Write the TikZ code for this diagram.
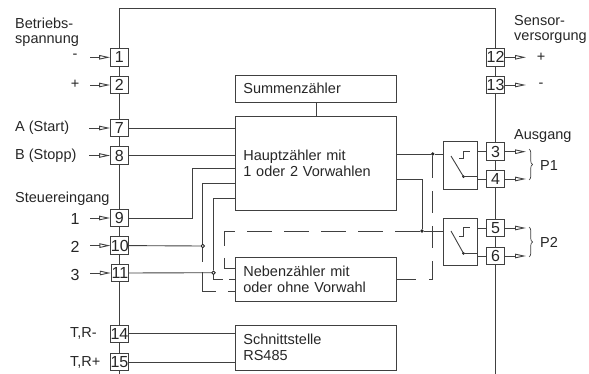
\documentclass[tikz,border=0pt]{standalone}
\usepackage{fontspec}
\setmainfont{Liberation Sans}
\usetikzlibrary{arrows.meta, calc, decorations.pathreplacing}

\tikzset{
    wire/.style={black!75, line width=0.9pt},
    dashwire/.style={wire, dash pattern=on 25pt off 12pt},
    termbox/.style={draw=black!75, fill=white, line width=0.9pt, minimum width=17.5pt, minimum height=17.5pt,
        inner sep=0pt, text=black!85, font=\fontsize{16}{16}\selectfont},
    block/.style={draw=black!75, line width=0.9pt, align=left, inner xsep=7.5pt, inner ysep=0pt,
        minimum width=160.7pt, text width=145.7pt, text=black!85, font=\fontsize{14.5}{15.8}\selectfont},
    swbox/.style={draw=black!75, line width=0.9pt, minimum width=34pt, minimum height=47.4pt, inner sep=0pt},
    lab/.style={text=black!85, inner sep=0pt, font=\fontsize{14.5}{15.5}\selectfont},
    numlab/.style={lab, font=\fontsize{16}{16}\selectfont},
    inarrow/.style={wire, -{Triangle[open, length=11pt, width=4.5pt]}},
    dot/.style={circle, fill=black!85, minimum size=3.8pt, inner sep=0pt},
    ring/.style={circle, draw=black!85, fill=white, line width=0.9pt, minimum size=3.6pt, inner sep=0pt},
    pbrace/.style={wire, line width=0.7pt, decorate, decoration={brace, amplitude=3.5pt}},
}

\begin{document}
\begin{tikzpicture}[x=1pt, y=-1pt]

\useasboundingbox (0,0) rectangle (589,374);

% ============================================================
% Housing line
% ============================================================

\coordinate (busla) at (119.5,374);
\coordinate (buslb) at (119.5,8.5);
\coordinate (busrb) at (495.5,8.5);
\coordinate (busra) at (495.5,374);
\draw[wire] (busla) -- (buslb) -- (busrb) -- (busra);

% ============================================================
% Terminals
% ============================================================

\foreach \n/\xt/\y in {1/119.3/57.3, 2/119.3/85, 9/119.3/218, 10/119.8/245.6, 11/120/273} {
    \node[termbox] (t\n) at (\xt,\y) {\n};
    \coordinate (a\n) at (90,\y);
    \draw[inarrow] (a\n) -- (t\n.west);
}
\foreach \n/\y in {7/128, 8/155.5} {
    \node[termbox] (t\n) at (119.3,\y) {\n};
    \coordinate (a\n) at (89,\y);
    \draw[inarrow] (a\n) -- (t\n.west);
}
\foreach \n/\y in {14/333.7, 15/362} {
    \node[termbox] (t\n) at (119.5,\y) {\n};
}
\foreach \n/\y/\txt in {12/57.3/+, 13/85/-} {
    \node[termbox] (t\n) at (495.5,\y) {\n};
    \coordinate (a\n) at (526,\y);
    \draw[inarrow] (t\n.east) -- (a\n);
    \node[lab] (lt\n) at (541,\y) {\txt};
}
\foreach \n/\y in {3/151.7, 4/179, 5/228, 6/256} {
    \node[termbox] (t\n) at (495.5,\y) {\n};
    \coordinate (a\n) at (526,\y);
    \draw[inarrow] (t\n.east) -- (a\n);
}

% ============================================================
% Labels
% ============================================================

\node[lab] (lt1) at (75,56.5) {-};
\node[lab] (lt2) at (75,84.5) {+};
\foreach \n/\y/\txt in {9/218.5/1, 10/246.5/2, 11/274.5/3} {
    \node[numlab] (lt\n) at (75,\y) {\txt};
}
\node[lab, anchor=west, align=left] (lbetr) at (15,32.5) {Betriebs-\\spannung};
\node[lab, anchor=west] (lstart) at (15,127.5) {A (Start)};
\node[lab, anchor=west] (lstopp) at (15,155.5) {B (Stopp)};
\node[lab, anchor=west] (lsteuer) at (15,199) {Steuereingang};
\node[lab, anchor=west] (ltr) at (70,333) {T,R-};
\node[lab, anchor=west] (ltrp) at (70,362) {T,R+};
\node[lab, anchor=west, align=left] (lsens) at (514,29.5) {Sensor-\\versorgung};
\node[lab, anchor=west] (lausg) at (514,136) {Ausgang};

% ============================================================
% Blocks
% ============================================================

\node[block, minimum height=26.5pt] (summe) at (316.2,88.8) {Summenzähler};
\node[block, minimum height=94pt] (haupt) at (316.2,163) {Hauptzähler mit\\1 oder 2 Vorwahlen};
\node[block, minimum height=44pt] (neben) at (316.2,279.7) {Nebenzähler mit\\oder ohne Vorwahl};
\node[block, minimum height=45pt] (schnitt) at (316.2,347.5) {Schnittstelle\\RS485};

\draw[wire] (summe.south) -- (summe.south |- haupt.north);
\draw[wire] (t7.east) -- (t7.east -| haupt.west);
\draw[wire] (t8.east) -- (t8.east -| haupt.west);
\draw[wire] (t14.east) -- (t14.east -| schnitt.west);
\draw[wire] (t15.east) -- (t15.east -| schnitt.west);

% ============================================================
% Control inputs
% ============================================================

\coordinate (ctla) at (192,168.5);
\coordinate (ctlb) at (202.7,183.5);
\coordinate (ctlc) at (213.5,198.3);
\coordinate (ctld) at (202.7,291);
\coordinate (ctle) at (213.5,279);
\node[ring] (rb) at (202.7,246) {};
\node[ring] (rc) at (213.5,272.7) {};

\draw[wire] (t9.east) -- (t9.east -| ctla) -- (ctla) -- (ctla -| haupt.west);
\draw[wire, dash pattern=on 14pt off 10pt on 32pt off 12pt on 11pt off 4pt] (rb.south) -- (ctld) -- (ctld -| neben.west);
\draw[wire, dash pattern=on 14pt off 6pt on 9pt off 4pt] (rc.south) -- (ctle) -- (ctle -| neben.west);
\draw[wire] (t10.east) -- (rb.west);
\draw[wire] (rb.north) -- (ctlb) -- (ctlb -| haupt.west);
\draw[wire] (t11.east) -- (rc.west);
\draw[wire] (rc.north) -- (ctlc) -- (ctlc -| haupt.west);

% ============================================================
% Output switches
% ============================================================

\foreach \nm/\yc/\ys/\ya in {swa/165.3/158.3/156, swb/242/236/231} {
    \node[swbox] (\nm) at (460.7,\yc) {};
    \draw[wire] (459,\ys) -- (463.5,\ys) -- (463.5,\yc-14.3) -- (470,\yc-14.3);
    \node[dot, minimum size=3pt] (\nm d) at (463.5,\yc+11.4) {};
    \draw[wire] (451,\ya) -- (\nm d.center);
    \draw[wire] (\nm d.center) -- (\nm d -| \nm.east);
}
\draw[wire] (t3.west) -- (t3.west -| swa.east);
\draw[wire] (t4.west) -- (t4.west -| swa.east);
\draw[wire] (t5.west) -- (t5.west -| swb.east);
\draw[wire] (t6.west) -- (t6.west -| swb.east);

\node[dot] (da) at (432.7,154) {};
\node[dot] (db) at (422,231) {};
\coordinate (hb) at (422,179.3);
\coordinate (nb) at (432.7,279.3);
\coordinate (nc) at (224.7,268.3);
\coordinate (nd) at (224.7,231);

\draw[wire] (haupt.east |- da) -- (da) -- (swa.west |- da);
\draw[wire] (haupt.east |- hb) -- (hb) -- (db) -- (swb.west |- db);
\draw[wire, dash pattern=on 22pt off 13pt] (da) -- (nb) -- (neben.east |- nb);
\draw[dashwire] (db) -- (nd) -- (nc) -- (neben.west |- nc);

\draw[pbrace] (529,149) -- (529,180);
\draw[pbrace] (529,227) -- (529,257);
\node[lab, anchor=west] (lpa) at (540,165.5) {P1};
\node[lab, anchor=west] (lpb) at (540,242.5) {P2};

\end{tikzpicture}
\end{document}
